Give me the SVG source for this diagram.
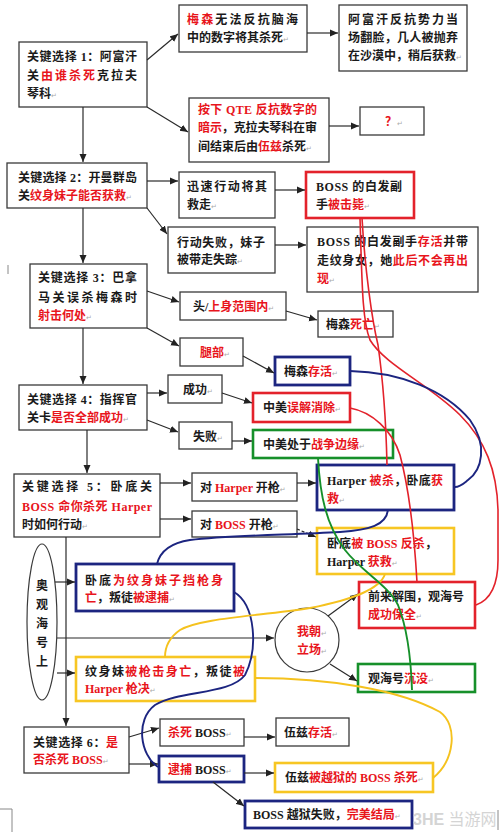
<svg xmlns="http://www.w3.org/2000/svg" width="500" height="835" viewBox="0 0 500 835">
<defs>
<marker id="ah" markerUnits="userSpaceOnUse" markerWidth="9" markerHeight="8" refX="8" refY="4" orient="auto"><path d="M0,0.5 L8,4 L0,7.5 z" fill="#222"/></marker>
<style>
.bg{fill:#fff}
.n rect{fill:#fff;stroke:#3a3a3a;stroke-width:1.3}
.n.rd rect{stroke:#e3222b;stroke-width:2.6}
.n.bl rect{stroke:#1c2580;stroke-width:2.8}
.n.gr rect{stroke:#16902a;stroke-width:2.6}
.n.ye rect{stroke:#f7c623;stroke-width:2.6}
.t{font-family:"Liberation Serif","Noto Sans CJK SC",serif;font-size:12px;font-weight:bold;fill:#1a1a1a}
.r{fill:#e8151c}
.p{font-family:"DejaVu Sans",sans-serif;font-size:7px;font-weight:normal;fill:#aaa}
.c line,.c path.g{stroke:#2a2a2a;stroke-width:1.2;fill:none}
.cv{fill:none;stroke-width:1.6}
.cr{stroke:#e3222b}
.cb{stroke:#1c2580;stroke-width:1.9}
.cy{stroke:#f5c21e;stroke-width:1.9}
.cg{stroke:#16902a;stroke-width:1.9}
</style>
</defs>
<rect class="bg" x="0" y="0" width="500" height="835"/>

<g id="nodes">
<g id="n1" class="n"><rect x="19" y="42" width="128" height="65"/>
<text class="t" x="27" y="61" textLength="110" lengthAdjust="spacing">关键选择 1：阿富汗</text>
<text class="t" x="27" y="80" textLength="110" lengthAdjust="spacing">关<tspan class="r">由谁杀死</tspan>克拉夫</text>
<text class="t" x="27" y="98">琴科<tspan class="p">↵</tspan></text></g>

<g id="n2" class="n"><rect x="179" y="5" width="128" height="47"/>
<text class="t" x="187" y="24" textLength="111" lengthAdjust="spacing"><tspan class="r">梅森</tspan>无法反抗脑海</text>
<text class="t" x="187" y="42">中的数字将其杀死<tspan class="p">↵</tspan></text></g>

<g id="n3" class="n"><rect x="339" y="5" width="128" height="66"/>
<text class="t" x="348" y="24" textLength="110" lengthAdjust="spacing">阿富汗反抗势力当</text>
<text class="t" x="348" y="42" textLength="110" lengthAdjust="spacing">场翻脸，几人被抛弃</text>
<text class="t" x="348" y="60">在沙漠中，稍后获救<tspan class="p">↵</tspan></text></g>

<g id="n4" class="n"><rect x="189" y="98" width="140" height="64"/>
<text class="t" x="198" y="114" textLength="119" lengthAdjust="spacing"><tspan class="r">按下 QTE 反抗数字的</tspan></text>
<text class="t" x="198" y="132" textLength="119" lengthAdjust="spacing"><tspan class="r">暗示</tspan>，克拉夫琴科在审</text>
<text class="t" x="198" y="151">间结束后由<tspan class="r">伍兹</tspan>杀死<tspan class="p">↵</tspan></text></g>

<g id="n5" class="n"><rect x="360" y="107" width="64" height="28"/>
<text class="t" x="385" y="126"><tspan class="r">？</tspan><tspan class="p">↵</tspan></text></g>

<g id="n6" class="n"><rect x="7" y="163" width="140" height="45"/>
<text class="t" x="18" y="182" textLength="119" lengthAdjust="spacing">关键选择 2：开曼群岛</text>
<text class="t" x="18" y="200">关<tspan class="r">纹身妹子能否获救</tspan><tspan class="p">↵</tspan></text></g>

<g id="n7" class="n"><rect x="179" y="172" width="96" height="46"/>
<text class="t" x="187" y="191" textLength="80" lengthAdjust="spacing">迅速行动将其</text>
<text class="t" x="187" y="209">救走<tspan class="p">↵</tspan></text></g>

<g id="n8" class="n rd"><rect x="306" y="172" width="108" height="46"/>
<text class="t" x="316" y="191" textLength="86" lengthAdjust="spacing">BOSS 的白发副</text>
<text class="t" x="316" y="209">手<tspan class="r">被击毙</tspan><tspan class="p">↵</tspan></text></g>

<g id="n9" class="n"><rect x="168" y="227" width="107" height="46"/>
<text class="t" x="177" y="247" textLength="88" lengthAdjust="spacing">行动失败，妹子</text>
<text class="t" x="177" y="264">被带走失踪<tspan class="p">↵</tspan></text></g>

<g id="n10" class="n"><rect x="307" y="227" width="171" height="65"/>
<text class="t" x="317" y="246" textLength="151" lengthAdjust="spacing">BOSS 的白发副手<tspan class="r">存活</tspan>并带</text>
<text class="t" x="317" y="265" textLength="151" lengthAdjust="spacing">走纹身女，她<tspan class="r">此后不会再出</tspan></text>
<text class="t" x="317" y="283"><tspan class="r">现</tspan><tspan class="p">↵</tspan></text></g>

<g id="n11" class="n"><rect x="30" y="264" width="117" height="64"/>
<text class="t" x="38" y="282" textLength="99" lengthAdjust="spacing">关键选择 3：巴拿</text>
<text class="t" x="38" y="302" textLength="99" lengthAdjust="spacing">马关误杀梅森时</text>
<text class="t" x="38" y="320"><tspan class="r">射击何处</tspan><tspan class="p">↵</tspan></text></g>

<g id="n12" class="n"><rect x="180" y="292" width="106" height="28"/>
<text class="t" x="193" y="311">头/<tspan class="r">上身范围内</tspan><tspan class="p">↵</tspan></text></g>

<g id="n13" class="n"><rect x="318" y="311" width="75" height="26"/>
<text class="t" x="326" y="329">梅森<tspan class="r">死亡</tspan><tspan class="p">↵</tspan></text></g>

<g id="n14" class="n"><rect x="180" y="338" width="63" height="28"/>
<text class="t" x="200" y="357"><tspan class="r">腿部</tspan><tspan class="p">↵</tspan></text></g>

<g id="n15" class="n bl"><rect x="275" y="357" width="75" height="28"/>
<text class="t" x="284" y="376">梅森<tspan class="r">存活</tspan><tspan class="p">↵</tspan></text></g>

<g id="n16" class="n"><rect x="19" y="385" width="128" height="45"/>
<text class="t" x="27" y="404" textLength="110" lengthAdjust="spacing">关键选择 4：指挥官</text>
<text class="t" x="27" y="422">关卡<tspan class="r">是否全部成功</tspan><tspan class="p">↵</tspan></text></g>

<g id="n17" class="n"><rect x="168" y="375" width="54" height="28"/>
<text class="t" x="183" y="394">成功<tspan class="p">↵</tspan></text></g>

<g id="n18" class="n"><rect x="179" y="422" width="53" height="27"/>
<text class="t" x="193" y="441">失败<tspan class="p">↵</tspan></text></g>

<g id="n19" class="n rd"><rect x="253" y="393" width="97" height="29"/>
<text class="t" x="263" y="412">中美<tspan class="r">误解消除</tspan><tspan class="p">↵</tspan></text></g>

<g id="n20" class="n gr"><rect x="253" y="430" width="140" height="28"/>
<text class="t" x="263" y="449">中美处于<tspan class="r">战争边缘</tspan><tspan class="p">↵</tspan></text></g>

<g id="n21" class="n"><rect x="14" y="474" width="146" height="63"/>
<text class="t" x="22" y="491" textLength="130" lengthAdjust="spacing">关键选择 5：卧底关</text>
<text class="t" x="22" y="511" textLength="130" lengthAdjust="spacing"><tspan class="r">BOSS 命你杀死 Harper</tspan></text>
<text class="t" x="22" y="529">时如何行动<tspan class="p">↵</tspan></text></g>

<g id="n22" class="n"><rect x="192" y="473" width="105" height="28"/>
<text class="t" x="200" y="492">对 <tspan class="r">Harper</tspan> 开枪<tspan class="p">↵</tspan></text></g>

<g id="n23" class="n"><rect x="192" y="511" width="105" height="26"/>
<text class="t" x="200" y="529">对 <tspan class="r">BOSS</tspan> 开枪<tspan class="p">↵</tspan></text></g>

<g id="n24" class="n bl"><rect x="317" y="465" width="137" height="45"/>
<text class="t" x="327" y="485" textLength="116" lengthAdjust="spacing">Harper <tspan class="r">被杀</tspan>，卧底<tspan class="r">获</tspan></text>
<text class="t" x="327" y="503"><tspan class="r">救</tspan><tspan class="p">↵</tspan></text></g>

<g id="n25" class="n ye"><rect x="317" y="528" width="137" height="46"/>
<text class="t" x="327" y="548" textLength="110" lengthAdjust="spacing">卧底<tspan class="r">被 BOSS 反杀</tspan>，</text>
<text class="t" x="327" y="566">Harper <tspan class="r">获救</tspan><tspan class="p">↵</tspan></text></g>

<g id="n26" class="n rd"><rect x="359" y="582" width="116" height="46"/>
<text class="t" x="368" y="601">前来解围，观海号</text>
<text class="t" x="368" y="619"><tspan class="r">成功保全</tspan><tspan class="p">↵</tspan></text></g>

<g id="n27" class="n"><circle cx="307" cy="640" r="32" fill="#fff" stroke="#3a3a3a" stroke-width="1.2"/>
<text class="t" x="297" y="636"><tspan class="r">我朝</tspan><tspan class="p">↵</tspan></text>
<text class="t" x="297" y="654"><tspan class="r">立场</tspan><tspan class="p">↵</tspan></text></g>

<g id="n28" class="n gr"><rect x="358" y="664" width="117" height="28"/>
<text class="t" x="368" y="683">观海号<tspan class="r">沉没</tspan><tspan class="p">↵</tspan></text></g>

<g id="n29" class="n"><ellipse cx="42" cy="622" rx="15" ry="78" fill="#fff" stroke="#3a3a3a" stroke-width="1.2"/>
<text class="t" x="42" y="590" text-anchor="middle">奥</text>
<text class="t" x="42" y="609" text-anchor="middle">观</text>
<text class="t" x="42" y="628" text-anchor="middle">海</text>
<text class="t" x="42" y="647" text-anchor="middle">号</text>
<text class="t" x="42" y="666" text-anchor="middle">上</text></g>

<g id="n30" class="n bl"><rect x="76" y="564" width="158" height="47"/>
<text class="t" x="85" y="585" textLength="138" lengthAdjust="spacing">卧底<tspan class="r">为纹身妹子挡枪身</tspan></text>
<text class="t" x="85" y="602"><tspan class="r">亡</tspan>，叛徒<tspan class="r">被逮捕</tspan><tspan class="p">↵</tspan></text></g>

<g id="n31" class="n ye"><rect x="76" y="657" width="179" height="44"/>
<text class="t" x="85" y="676" textLength="160" lengthAdjust="spacing">纹身妹<tspan class="r">被枪击身亡</tspan>，叛徒<tspan class="r">被</tspan></text>
<text class="t" x="85" y="693"><tspan class="r">Harper 枪决</tspan><tspan class="p">↵</tspan></text></g>

<g id="n32" class="n"><rect x="24" y="727" width="105" height="46"/>
<text class="t" x="33" y="747" textLength="85" lengthAdjust="spacing">关键选择 6：<tspan class="r">是</tspan></text>
<text class="t" x="33" y="764"><tspan class="r">否杀死 BOSS</tspan><tspan class="p">↵</tspan></text></g>

<g id="n33" class="n"><rect x="160" y="719" width="84" height="27"/>
<text class="t" x="168" y="737"><tspan class="r">杀死</tspan> BOSS<tspan class="p">↵</tspan></text></g>

<g id="n34" class="n bl"><rect x="159" y="756" width="85" height="26"/>
<text class="t" x="168" y="774"><tspan class="r">逮捕</tspan> BOSS<tspan class="p">↵</tspan></text></g>

<g id="n35" class="n"><rect x="276" y="718" width="73" height="28"/>
<text class="t" x="284" y="737">伍兹<tspan class="r">存活</tspan><tspan class="p">↵</tspan></text></g>

<g id="n36" class="n ye"><rect x="275" y="763" width="158" height="29"/>
<text class="t" x="285" y="782">伍兹<tspan class="r">被越狱的 BOSS 杀死</tspan><tspan class="p">↵</tspan></text></g>

<g id="n37" class="n bl"><rect x="245" y="801" width="167" height="27"/>
<text class="t" x="253" y="819">BOSS 越狱失败，<tspan class="r">完美结局</tspan><tspan class="p">↵</tspan></text></g>
</g>

<g id="connectors" class="c">
<line x1="147" y1="60" x2="178" y2="34" marker-end="url(#ah)"/>
<line x1="307" y1="33" x2="338" y2="33" marker-end="url(#ah)"/>
<line x1="147" y1="107" x2="188" y2="132" marker-end="url(#ah)"/>
<line x1="329" y1="126" x2="359" y2="126" marker-end="url(#ah)"/>
<line x1="83" y1="107" x2="83" y2="162" marker-end="url(#ah)"/>
<line x1="147" y1="181" x2="178" y2="181" marker-end="url(#ah)"/>
<line x1="275" y1="190" x2="305" y2="190" marker-end="url(#ah)"/>
<line x1="147" y1="208" x2="167" y2="234" marker-end="url(#ah)"/>
<line x1="275" y1="245" x2="306" y2="245" marker-end="url(#ah)"/>
<line x1="83" y1="208" x2="83" y2="263" marker-end="url(#ah)"/>
<line x1="147" y1="291" x2="179" y2="302" marker-end="url(#ah)"/>
<line x1="286" y1="311" x2="317" y2="320" marker-end="url(#ah)"/>
<line x1="147" y1="328" x2="179" y2="346" marker-end="url(#ah)"/>
<line x1="243" y1="356" x2="274" y2="373" marker-end="url(#ah)"/>
<line x1="83" y1="328" x2="83" y2="384" marker-end="url(#ah)"/>
<line x1="147" y1="393" x2="167" y2="393" marker-end="url(#ah)"/>
<line x1="147" y1="420" x2="178" y2="432" marker-end="url(#ah)"/>
<line x1="222" y1="393" x2="252" y2="403" marker-end="url(#ah)"/>
<line x1="232" y1="441" x2="252" y2="441" marker-end="url(#ah)"/>
<line x1="87" y1="430" x2="87" y2="473" marker-end="url(#ah)"/>
<line x1="160" y1="483" x2="191" y2="483" marker-end="url(#ah)"/>
<line x1="160" y1="519" x2="191" y2="519" marker-end="url(#ah)"/>
<line x1="297" y1="483" x2="316" y2="483" marker-end="url(#ah)"/>
<line x1="297" y1="529" x2="316" y2="537" stroke-dasharray="3,2" marker-end="url(#ah)"/>
<line x1="66" y1="537" x2="66" y2="726" marker-end="url(#ah)"/>
<line x1="55" y1="582" x2="75" y2="582" marker-end="url(#ah)"/>
<line x1="57" y1="638" x2="274" y2="638" marker-end="url(#ah)"/>
<line x1="57" y1="673" x2="75" y2="673" marker-end="url(#ah)"/>
<line x1="328" y1="616" x2="358" y2="594" marker-end="url(#ah)"/>
<line x1="330" y1="664" x2="357" y2="681" marker-end="url(#ah)"/>
<line x1="129" y1="737" x2="159" y2="728" marker-end="url(#ah)"/>
<line x1="129" y1="764" x2="158" y2="764" marker-end="url(#ah)"/>
<line x1="244" y1="737" x2="275" y2="737" marker-end="url(#ah)"/>
<line x1="244" y1="773" x2="274" y2="773" marker-end="url(#ah)"/>
<line x1="213" y1="782" x2="244" y2="806" marker-end="url(#ah)"/>
<path class="cv cr" d="M360,218 C362,280 362,320 370,340 C385,365 430,385 460,415 C485,440 497,470 498,510 L498,560 C498,585 490,600 476,605"/>
<path class="cv cr" d="M362,218 C365,270 372,320 378,345 C383,380 386,420 387,465"/>
<path class="cv cr" d="M350,408 C372,412 392,430 400,455 C408,485 414,530 417,582"/>
<path class="cv cb" d="M350,371 C400,372 445,390 470,420 C488,445 482,470 468,480 C463,484 460,487 455,487"/>
<path class="cv cb" d="M388,510 C386,525 370,530 340,532 C290,535 230,535 190,540 C170,543 160,552 157,564"/>
<path class="cv cb" d="M234,592 C256,605 258,650 245,675 C230,695 180,690 155,705 C135,720 140,755 158,767"/>
<path class="cv cy" d="M385,574 C380,590 350,600 310,608 C260,616 200,618 180,630 C170,637 165,645 165,657"/>
<path class="cv cy" d="M255,678 C330,678 400,690 440,712 C458,725 455,760 433,778"/>
<path class="cv cg" d="M318,458 C320,495 326,525 345,550 C362,572 388,585 398,605 C408,630 411,660 412,690"/>
</g>

<g id="marks" fill="none" stroke="#888" stroke-width="1">
<path d="M8,265 L8,274"/>
<path d="M0,809 L12,809 L12,832"/>
<path d="M498,810 L498,830"/>
</g>
<text x="413" y="825" font-family="Liberation Sans,Noto Sans CJK SC,sans-serif" font-size="16" font-weight="bold" fill="#d4d4d4">3HE <tspan font-weight="normal">当游网</tspan></text>
</svg>
